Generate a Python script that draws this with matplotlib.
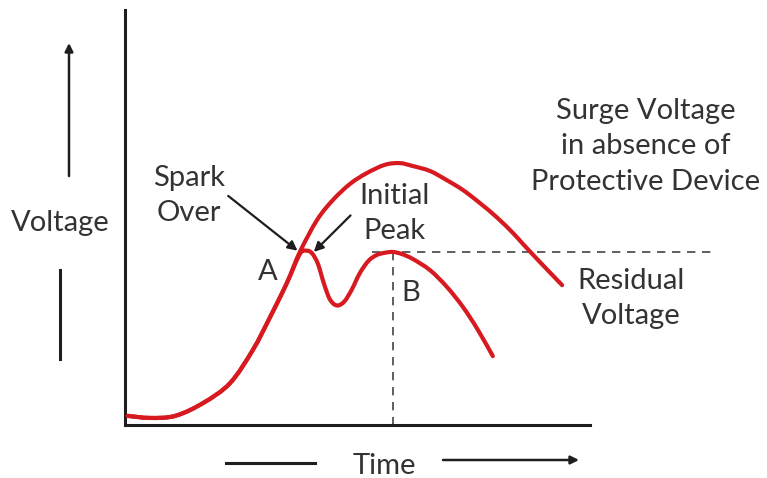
import numpy as np
import matplotlib
matplotlib.use("Agg")
import matplotlib.pyplot as plt
from matplotlib.path import Path
from matplotlib.patches import PathPatch

plt.rcParams['font.family'] = ['Lato', 'DejaVu Sans']

# Surge voltage without a protective device (time, voltage)
surge_t = [0.06, 0.54, 1.08, 1.68, 2.26, 2.75, 3.12, 3.48, 3.76, 4.13, 4.47,
           4.84, 5.20, 5.59, 5.91, 6.19, 6.56, 6.92, 7.27, 7.63, 7.99, 8.34,
           8.56, 8.92, 9.40]
surge_v = [0.22, 0.17, 0.22, 0.53, 1.01, 1.81, 2.60, 3.42, 4.17, 4.94, 5.42,
           5.81, 6.07, 6.27, 6.31, 6.24, 6.12, 5.90, 5.66, 5.35, 5.01, 4.63,
           4.36, 3.93, 3.37]

# Voltage with the protective device: spark over at A, then residual peak B
prot_t = [0.06, 0.54, 1.08, 1.68, 2.26, 2.75, 3.12, 3.48, 3.76, 3.90, 4.02,
          4.15, 4.28, 4.41, 4.56, 4.72, 4.88, 5.05, 5.24, 5.42, 5.59, 5.76,
          5.95, 6.19, 6.56, 6.92, 7.27, 7.59, 7.91]
prot_v = [0.22, 0.17, 0.22, 0.53, 1.01, 1.81, 2.60, 3.42, 4.12, 4.20, 4.14,
          3.88, 3.40, 3.02, 2.88, 2.98, 3.27, 3.66, 3.96, 4.10, 4.15, 4.17,
          4.12, 4.00, 3.73, 3.33, 2.84, 2.29, 1.66]

spark_idx = 8      # point A
peak_idx = 21      # point B

red = '#d71920'
ink = '#1e1e1e'
txt = '#333333'


def smooth_path(xs, ys, tension=1 / 6):
    """Cubic Bezier path through the points (Catmull-Rom tangents)."""
    p = np.column_stack([xs, ys]).astype(float)
    verts = [p[0]]
    codes = [Path.MOVETO]
    n = len(p)
    for i in range(n - 1):
        p0 = p[i - 1] if i > 0 else p[i]
        p1, p2 = p[i], p[i + 1]
        p3 = p[i + 2] if i + 2 < n else p[i + 1]
        c1 = p1 + (p2 - p0) * tension
        c2 = p2 - (p3 - p1) * tension
        verts += [c1, c2, p2]
        codes += [Path.CURVE4] * 3
    return Path(verts, codes)


W, H = 767, 478
fig = plt.figure(figsize=(W / 100, H / 100), dpi=100)

# Main plot area
ax = fig.add_axes([125 / W, (H - 425) / H, (590 - 125) / W, (425 - 10) / H])
ax.set_xlim(0, 10)
ax.set_ylim(0, 10)
for s in ('top', 'right'):
    ax.spines[s].set_visible(False)
for s in ('left', 'bottom'):
    ax.spines[s].set_linewidth(2.2)
    ax.spines[s].set_color(ink)
ax.set_xticks([])
ax.set_yticks([])
ax.patch.set_alpha(0)

for xs, ys in ((surge_t, surge_v), (prot_t, prot_v)):
    ax.add_patch(PathPatch(smooth_path(xs, ys), facecolor='none',
                           edgecolor=red, lw=3.0, capstyle='round',
                           joinstyle='round', zorder=3))

bt, bv = prot_t[peak_idx], prot_v[peak_idx]
ax.plot([bt, bt], [bv, -0.15], ls=(0, (5, 4)), color='#444444', lw=1.2,
        clip_on=False, zorder=2)
ax.plot([bt - 0.45, 12.7], [bv, bv], ls=(0, (5, 4)), color='#444444', lw=1.2,
        clip_on=False, zorder=2)

at, av = prot_t[spark_idx], prot_v[spark_idx]
ax.annotate('', xy=(at - 0.05, av + 0.08), xytext=(2.22, 5.52),
            arrowprops=dict(arrowstyle='-|>', color=ink, lw=1.6,
                            mutation_scale=14, shrinkA=0, shrinkB=0),
            annotation_clip=False, zorder=5)
ax.annotate('', xy=(at + 0.3, av + 0.05), xytext=(4.85, 5.05),
            arrowprops=dict(arrowstyle='-|>', color=ink, lw=1.6,
                            mutation_scale=14, shrinkA=0, shrinkB=0),
            annotation_clip=False, zorder=5)

# Overlay in pixel units for labels and the outside axis arrows
ov = fig.add_axes([0, 0, 1, 1])
ov.set_xlim(0, W)
ov.set_ylim(H, 0)
ov.axis('off')
ov.patch.set_alpha(0)

fs = 21
ls = 1.45
ov.text(60, 210, 'Voltage', ha='center', va='top', fontsize=fs, color=txt)
ov.annotate('', xy=(69, 43), xytext=(69, 176),
            arrowprops=dict(arrowstyle='-|>', color=ink, lw=1.8,
                            mutation_scale=12, shrinkA=0, shrinkB=0))
ov.plot([60, 60], [270, 359], color=ink, lw=2.2)

ov.text(384, 453, 'Time', ha='center', va='top', fontsize=fs, color=txt)
ov.plot([226, 315], [463, 463], color=ink, lw=2.2)
ov.annotate('', xy=(579, 460), xytext=(443, 460),
            arrowprops=dict(arrowstyle='-|>', color=ink, lw=1.8,
                            mutation_scale=12, shrinkA=0, shrinkB=0))

ov.text(189, 165, 'Spark\nOver', ha='center', va='top', fontsize=fs,
        color=txt, linespacing=ls)
ov.text(268, 272, 'A', ha='center', va='center', fontsize=fs, color=txt)
ov.text(394, 183, 'Initial\nPeak', ha='center', va='top', fontsize=fs,
        color=txt, linespacing=ls)
ov.text(411, 293, 'B', ha='center', va='center', fontsize=fs, color=txt)
ov.text(646, 98, 'Surge Voltage\nin absence of\nProtective Device', ha='center',
        va='top', fontsize=fs, color=txt, linespacing=ls)
ov.text(631, 268, 'Residual\nVoltage', ha='center', va='top', fontsize=fs,
        color=txt, linespacing=ls)

fig.savefig('out.png', dpi=100)
